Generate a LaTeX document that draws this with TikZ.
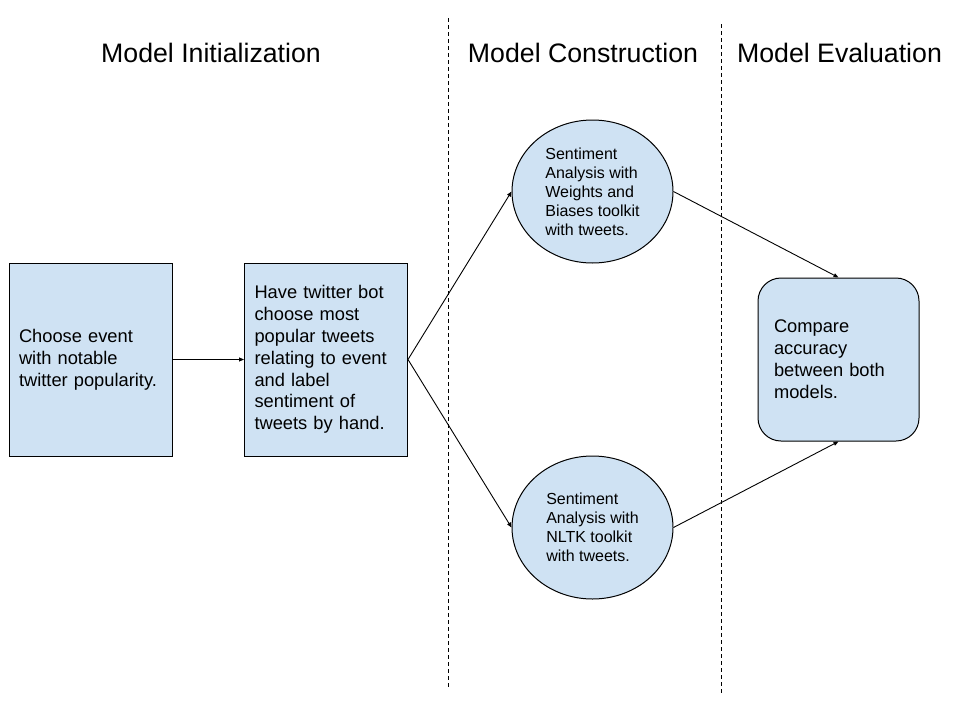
\documentclass[tikz,border=0pt]{standalone}
\usepackage{fontspec}
\setmainfont{Liberation Sans}
\usetikzlibrary{shapes.geometric, arrows.meta}
\definecolor{step-fill}{HTML}{CFE2F3}

\begin{document}
\begin{tikzpicture}[x=1pt, y=-1pt]
        \tikzstyle{phase-title}=[font=\fontsize{26.7}{32}\selectfont, inner sep=0pt]
        \tikzstyle{step-box}=[rectangle, draw=black, line width=1pt, fill=step-fill, minimum width=163pt, minimum height=193pt, text width=143pt, inner xsep=10pt, align=left, font=\fontsize{18.3}{21.8}\selectfont]
        \tikzstyle{model-oval}=[ellipse, draw=black, line width=1pt, fill=step-fill, minimum width=161pt, minimum height=143pt, inner sep=0pt, align=left, font=\fontsize{16}{19}\selectfont]
        \tikzstyle{compare-box}=[rectangle, rounded corners=23pt, draw=black, line width=1pt, fill=step-fill, minimum width=161pt, minimum height=163pt, text width=129pt, inner xsep=16pt, align=left, font=\fontsize{18.3}{22}\selectfont]
        \tikzstyle{phase-split}=[line width=1pt, dash pattern=on 4pt off 3pt]
        \tikzstyle{transition} = [-{Triangle[length=5pt, width=4pt]}, line width=0.9pt];

        \useasboundingbox (0, 0) rectangle (960, 720);

        % phase headings and separators
        \node[phase-title] (init-title) at (211, 53) {Model Initialization};
        \node[phase-title] (build-title) at (583, 53) {Model Construction};
        \node[phase-title] (eval-title) at (839.5, 53) {Model Evaluation};
        \draw[phase-split] (448, 18) -- (448, 688);
        \draw[phase-split] (721, 24) -- (721, 693);

        \node[step-box] (choose-event) at (90.5, 359.5) {Choose event\\with notable\\twitter popularity.};
        \node[step-box] (label-tweets) at (326, 359.5) {Have twitter bot\\choose most\\popular tweets\\relating to event\\and label\\sentiment of\\tweets by hand.};
        \node[model-oval] (wandb-model) at (592.5, 191.5) {Sentiment\\Analysis with\\Weights and\\Biases toolkit\\with tweets.};
        \node[model-oval] (nltk-model) at (592.5, 527.5) {Sentiment\\Analysis with\\NLTK toolkit\\with tweets.};
        \node[compare-box] (compare) at (838.5, 359.5) {Compare\\accuracy\\between both\\models.};

        \draw[transition] (choose-event) -- (label-tweets);
        \draw[transition] (label-tweets.east) -- (wandb-model.west);
        \draw[transition] (label-tweets.east) -- (nltk-model.west);
        \draw[transition] (wandb-model.east) -- (compare.north);
        \draw[transition] (nltk-model.east) -- (compare.south);
    \end{tikzpicture}
\end{document}
